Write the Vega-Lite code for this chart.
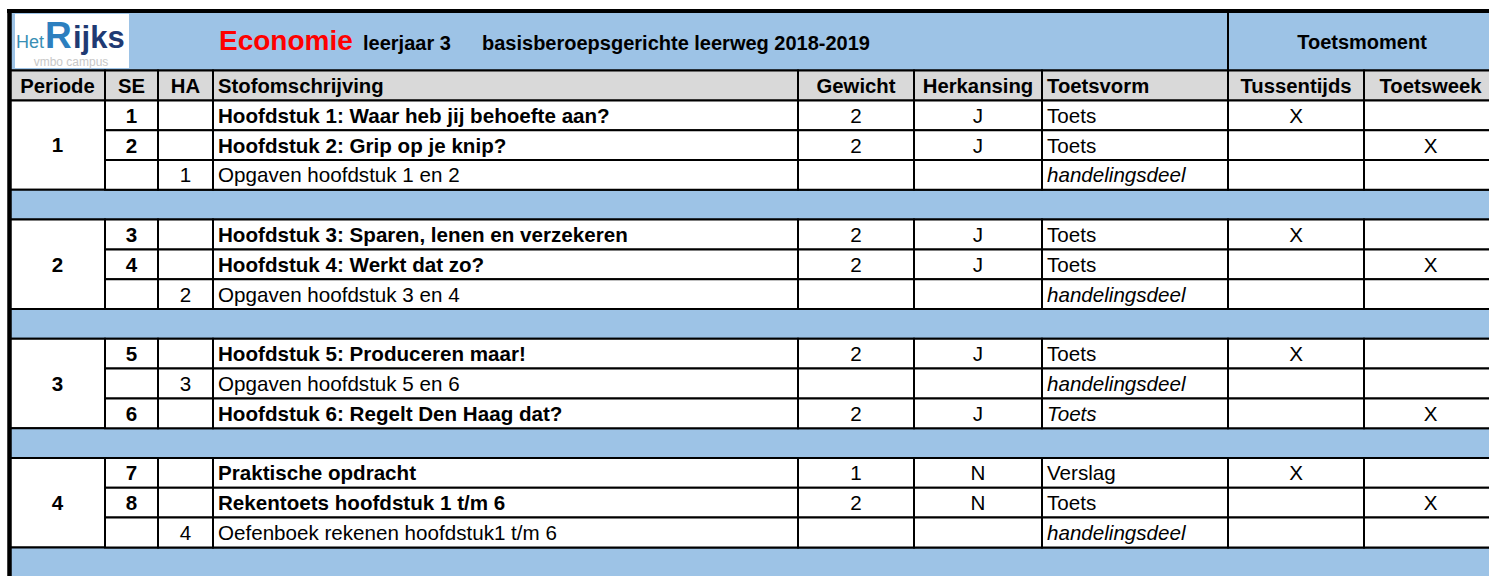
{
  "$schema": "https://vega.github.io/schema/vega-lite/v6.json",
  "width": 1489,
  "height": 576,
  "autosize": "none",
  "padding": 0,
  "background": "white",
  "config": {
    "view": {"stroke": null},
    "text": {"font": "Liberation Sans", "fontSize": 20.6, "color": "#000000"}
  },
  "datasets": {
    "kolommen": [
      {"kolom": "Periode", "links": 10, "rechts": 105, "midden": 57.5},
      {"kolom": "SE", "links": 105, "rechts": 158, "midden": 131.5},
      {"kolom": "HA", "links": 158, "rechts": 213, "midden": 185.5},
      {"kolom": "Stofomschrijving", "links": 213, "rechts": 798, "midden": 505.5},
      {"kolom": "Gewicht", "links": 798, "rechts": 914, "midden": 856},
      {"kolom": "Herkansing", "links": 914, "rechts": 1042, "midden": 978},
      {"kolom": "Toetsvorm", "links": 1042, "rechts": 1228, "midden": 1135},
      {"kolom": "Tussentijds", "links": 1228, "rechts": 1364, "midden": 1296},
      {"kolom": "Toetsweek", "links": 1364, "rechts": 1497, "midden": 1430.5}
    ],
    "vakken": [
      {"inhoud": "", "soort": "titel", "rij": 0, "rijEind": 2, "vanKolom": "Periode", "totKolom": "Toetsvorm"},
      {"inhoud": "Toetsmoment", "soort": "titel", "rij": 0, "rijEind": 2, "vanKolom": "Tussentijds", "totKolom": "Toetsweek"},
      {"inhoud": "Periode", "soort": "kop", "rij": 2, "rijEind": 3, "vanKolom": "Periode", "totKolom": "Periode"},
      {"inhoud": "1", "soort": "periode", "rij": 3, "rijEind": 6, "vanKolom": "Periode", "totKolom": "Periode"},
      {"inhoud": "", "soort": "band", "rij": 6, "rijEind": 7, "vanKolom": "Periode", "totKolom": "Toetsweek"},
      {"inhoud": "2", "soort": "periode", "rij": 7, "rijEind": 10, "vanKolom": "Periode", "totKolom": "Periode"},
      {"inhoud": "", "soort": "band", "rij": 10, "rijEind": 11, "vanKolom": "Periode", "totKolom": "Toetsweek"},
      {"inhoud": "3", "soort": "periode", "rij": 11, "rijEind": 14, "vanKolom": "Periode", "totKolom": "Periode"},
      {"inhoud": "", "soort": "band", "rij": 14, "rijEind": 15, "vanKolom": "Periode", "totKolom": "Toetsweek"},
      {"inhoud": "4", "soort": "periode", "rij": 15, "rijEind": 18, "vanKolom": "Periode", "totKolom": "Periode"},
      {"inhoud": "", "soort": "band", "rij": 18, "rijEind": 19, "vanKolom": "Periode", "totKolom": "Toetsweek"}
    ],
    "regels": [
      {"rij": 2, "rijEind": 3, "type": "kop", "SE": "SE", "HA": "HA", "Stofomschrijving": "Stofomschrijving", "Gewicht": "Gewicht", "Herkansing": "Herkansing", "Toetsvorm": "Toetsvorm", "Tussentijds": "Tussentijds", "Toetsweek": "Toetsweek"},
      {"rij": 3, "rijEind": 4, "type": "SE", "SE": "1", "HA": "", "Stofomschrijving": "Hoofdstuk 1: Waar heb jij behoefte aan?", "Gewicht": "2", "Herkansing": "J", "Toetsvorm": "Toets", "Tussentijds": "X", "Toetsweek": ""},
      {"rij": 4, "rijEind": 5, "type": "SE", "SE": "2", "HA": "", "Stofomschrijving": "Hoofdstuk 2: Grip op je knip?", "Gewicht": "2", "Herkansing": "J", "Toetsvorm": "Toets", "Tussentijds": "", "Toetsweek": "X"},
      {"rij": 5, "rijEind": 6, "type": "HA", "SE": "", "HA": "1", "Stofomschrijving": "Opgaven hoofdstuk 1 en 2", "Gewicht": "", "Herkansing": "", "Toetsvorm": "handelingsdeel", "Tussentijds": "", "Toetsweek": ""},
      {"rij": 7, "rijEind": 8, "type": "SE", "SE": "3", "HA": "", "Stofomschrijving": "Hoofdstuk 3: Sparen, lenen en verzekeren", "Gewicht": "2", "Herkansing": "J", "Toetsvorm": "Toets", "Tussentijds": "X", "Toetsweek": ""},
      {"rij": 8, "rijEind": 9, "type": "SE", "SE": "4", "HA": "", "Stofomschrijving": "Hoofdstuk 4: Werkt dat zo?", "Gewicht": "2", "Herkansing": "J", "Toetsvorm": "Toets", "Tussentijds": "", "Toetsweek": "X"},
      {"rij": 9, "rijEind": 10, "type": "HA", "SE": "", "HA": "2", "Stofomschrijving": "Opgaven hoofdstuk 3 en 4", "Gewicht": "", "Herkansing": "", "Toetsvorm": "handelingsdeel", "Tussentijds": "", "Toetsweek": ""},
      {"rij": 11, "rijEind": 12, "type": "SE", "SE": "5", "HA": "", "Stofomschrijving": "Hoofdstuk 5: Produceren maar!", "Gewicht": "2", "Herkansing": "J", "Toetsvorm": "Toets", "Tussentijds": "X", "Toetsweek": ""},
      {"rij": 12, "rijEind": 13, "type": "HA", "SE": "", "HA": "3", "Stofomschrijving": "Opgaven hoofdstuk 5 en 6", "Gewicht": "", "Herkansing": "", "Toetsvorm": "handelingsdeel", "Tussentijds": "", "Toetsweek": ""},
      {"rij": 13, "rijEind": 14, "type": "SE", "SE": "6", "HA": "", "Stofomschrijving": "Hoofdstuk 6: Regelt Den Haag dat?", "Gewicht": "2", "Herkansing": "J", "Toetsvorm": "Toets", "Tussentijds": "", "Toetsweek": "X"},
      {"rij": 15, "rijEind": 16, "type": "SE", "SE": "7", "HA": "", "Stofomschrijving": "Praktische opdracht", "Gewicht": "1", "Herkansing": "N", "Toetsvorm": "Verslag", "Tussentijds": "X", "Toetsweek": ""},
      {"rij": 16, "rijEind": 17, "type": "SE", "SE": "8", "HA": "", "Stofomschrijving": "Rekentoets hoofdstuk 1 t/m 6", "Gewicht": "2", "Herkansing": "N", "Toetsvorm": "Toets", "Tussentijds": "", "Toetsweek": "X"},
      {"rij": 17, "rijEind": 18, "type": "HA", "SE": "", "HA": "4", "Stofomschrijving": "Oefenboek rekenen hoofdstuk1 t/m 6", "Gewicht": "", "Herkansing": "", "Toetsvorm": "handelingsdeel", "Tussentijds": "", "Toetsweek": ""}
    ]
  },
  "layer": [
    {
      "data": {"name": "vakken"},
      "transform": [
        {"lookup": "vanKolom", "from": {"data": {"name": "kolommen"}, "key": "kolom", "fields": ["links", "midden"]}},
        {"lookup": "totKolom", "from": {"data": {"name": "kolommen"}, "key": "kolom", "fields": ["rechts"]}}
      ],
      "layer": [
        {
          "mark": {"type": "rect", "stroke": "#000000", "strokeWidth": 2},
          "encoding": {
            "x": {"field": "links", "type": "quantitative", "scale": {"domain": [0, 1489], "nice": false, "zero": false}, "axis": null},
            "x2": {"field": "rechts"},
            "y": {"field": "rij", "type": "quantitative", "scale": {"domain": [-0.369, 18.96], "nice": false, "zero": false, "reverse": true}, "axis": null},
            "y2": {"field": "rijEind"},
            "fill": {"condition": [{"test": "datum.soort === 'kop'", "value": "#d9d9d9"}, {"test": "datum.soort === 'periode'", "value": "#ffffff"}], "value": "#9dc3e6"}
          }
        },
        {
          "transform": [{"filter": "datum.soort === 'kop'"}],
          "mark": {"type": "text", "fontWeight": "bold", "fontSize": 20.3, "baseline": "middle", "align": "center", "dy": 16.5},
          "encoding": {
            "x": {"field": "midden", "type": "quantitative", "scale": {"domain": [0, 1489], "nice": false, "zero": false}, "axis": null},
            "y": {"field": "rij", "type": "quantitative", "scale": {"domain": [-0.369, 18.96], "nice": false, "zero": false, "reverse": true}, "axis": null},
            "text": {"field": "inhoud"}
          }
        },
        {
          "transform": [{"filter": "datum.soort === 'periode'"}],
          "mark": {"type": "text", "fontWeight": "bold", "baseline": "middle", "align": "center", "dy": 46},
          "encoding": {
            "x": {"field": "midden", "type": "quantitative", "scale": {"domain": [0, 1489], "nice": false, "zero": false}, "axis": null},
            "y": {"field": "rij", "type": "quantitative", "scale": {"domain": [-0.369, 18.96], "nice": false, "zero": false, "reverse": true}, "axis": null},
            "text": {"field": "inhoud"}
          }
        }
      ]
    },
    {
      "data": {"name": "regels"},
      "transform": [
        {"fold": ["SE", "HA", "Stofomschrijving", "Gewicht", "Herkansing", "Toetsvorm", "Tussentijds", "Toetsweek"], "as": ["kolom", "tekst"]},
        {"lookup": "kolom", "from": {"data": {"name": "kolommen"}, "key": "kolom", "fields": ["links", "rechts", "midden"]}}
      ],
      "layer": [
        {
          "mark": {"type": "rect", "stroke": "#000000", "strokeWidth": 2},
          "encoding": {
            "x": {"field": "links", "type": "quantitative", "scale": {"domain": [0, 1489], "nice": false, "zero": false}, "axis": null},
            "x2": {"field": "rechts"},
            "y": {"field": "rij", "type": "quantitative", "scale": {"domain": [-0.369, 18.96], "nice": false, "zero": false, "reverse": true}, "axis": null},
            "y2": {"field": "rijEind"},
            "fill": {"condition": {"test": "datum.type === 'kop'", "value": "#d9d9d9"}, "value": "#ffffff"}
          }
        },
        {
          "transform": [{"filter": "datum.type === 'kop' && datum.kolom !== 'Stofomschrijving' && datum.kolom !== 'Toetsvorm'"}],
          "mark": {"type": "text", "fontWeight": "bold", "fontSize": 20.3, "baseline": "middle", "align": "center", "dy": 16.5},
          "encoding": {
            "x": {"field": "midden", "type": "quantitative", "scale": {"domain": [0, 1489], "nice": false, "zero": false}, "axis": null},
            "y": {"field": "rij", "type": "quantitative", "scale": {"domain": [-0.369, 18.96], "nice": false, "zero": false, "reverse": true}, "axis": null},
            "text": {"field": "tekst"}
          }
        },
        {
          "transform": [{"filter": "datum.type === 'kop' && (datum.kolom === 'Stofomschrijving' || datum.kolom === 'Toetsvorm')"}],
          "mark": {"type": "text", "fontWeight": "bold", "fontSize": 20.3, "baseline": "middle", "align": "left", "dx": 5, "dy": 16.5},
          "encoding": {
            "x": {"field": "links", "type": "quantitative", "scale": {"domain": [0, 1489], "nice": false, "zero": false}, "axis": null},
            "y": {"field": "rij", "type": "quantitative", "scale": {"domain": [-0.369, 18.96], "nice": false, "zero": false, "reverse": true}, "axis": null},
            "text": {"field": "tekst"}
          }
        },
        {
          "transform": [{"filter": "datum.type !== 'kop' && datum.tekst !== '' && datum.kolom === 'SE'"}],
          "mark": {"type": "text", "fontWeight": "bold", "baseline": "middle", "align": "center", "dy": 16.5},
          "encoding": {
            "x": {"field": "midden", "type": "quantitative", "scale": {"domain": [0, 1489], "nice": false, "zero": false}, "axis": null},
            "y": {"field": "rij", "type": "quantitative", "scale": {"domain": [-0.369, 18.96], "nice": false, "zero": false, "reverse": true}, "axis": null},
            "text": {"field": "tekst"}
          }
        },
        {
          "transform": [{"filter": "datum.type === 'SE' && datum.kolom === 'Stofomschrijving'"}],
          "mark": {"type": "text", "fontWeight": "bold", "baseline": "middle", "align": "left", "dx": 5, "dy": 16.5},
          "encoding": {
            "x": {"field": "links", "type": "quantitative", "scale": {"domain": [0, 1489], "nice": false, "zero": false}, "axis": null},
            "y": {"field": "rij", "type": "quantitative", "scale": {"domain": [-0.369, 18.96], "nice": false, "zero": false, "reverse": true}, "axis": null},
            "text": {"field": "tekst"}
          }
        },
        {
          "transform": [{"filter": "datum.type !== 'kop' && datum.tekst !== '' && (datum.kolom === 'HA' || datum.kolom === 'Gewicht' || datum.kolom === 'Herkansing' || datum.kolom === 'Tussentijds' || datum.kolom === 'Toetsweek')"}],
          "mark": {"type": "text", "baseline": "middle", "align": "center", "dy": 16.5},
          "encoding": {
            "x": {"field": "midden", "type": "quantitative", "scale": {"domain": [0, 1489], "nice": false, "zero": false}, "axis": null},
            "y": {"field": "rij", "type": "quantitative", "scale": {"domain": [-0.369, 18.96], "nice": false, "zero": false, "reverse": true}, "axis": null},
            "text": {"field": "tekst"}
          }
        },
        {
          "transform": [{"filter": "datum.type !== 'kop' && ((datum.kolom === 'Stofomschrijving' && datum.type === 'HA') || (datum.kolom === 'Toetsvorm' && datum.tekst !== 'handelingsdeel' && datum.rij !== 13))"}],
          "mark": {"type": "text", "baseline": "middle", "align": "left", "dx": 5, "dy": 16.5},
          "encoding": {
            "x": {"field": "links", "type": "quantitative", "scale": {"domain": [0, 1489], "nice": false, "zero": false}, "axis": null},
            "y": {"field": "rij", "type": "quantitative", "scale": {"domain": [-0.369, 18.96], "nice": false, "zero": false, "reverse": true}, "axis": null},
            "text": {"field": "tekst"}
          }
        },
        {
          "transform": [{"filter": "datum.type !== 'kop' && datum.kolom === 'Toetsvorm' && (datum.tekst === 'handelingsdeel' || datum.rij === 13)"}],
          "mark": {"type": "text", "fontStyle": "italic", "baseline": "middle", "align": "left", "dx": 5, "dy": 16.5},
          "encoding": {
            "x": {"field": "links", "type": "quantitative", "scale": {"domain": [0, 1489], "nice": false, "zero": false}, "axis": null},
            "y": {"field": "rij", "type": "quantitative", "scale": {"domain": [-0.369, 18.96], "nice": false, "zero": false, "reverse": true}, "axis": null},
            "text": {"field": "tekst"}
          }
        }
      ]
    },
    {
      "data": {"values": [{"deel": "Economie"}]},
      "mark": {"type": "text", "fontWeight": "bold", "fontSize": 28, "color": "#ff0000", "align": "left", "baseline": "alphabetic", "dx": 6, "dy": 9},
      "encoding": {
        "x": {"datum": 213, "type": "quantitative", "scale": {"domain": [0, 1489], "nice": false, "zero": false}, "axis": null},
        "y": {"datum": 1, "type": "quantitative", "scale": {"domain": [-0.369, 18.96], "nice": false, "zero": false, "reverse": true}, "axis": null},
        "text": {"field": "deel"}
      }
    },
    {
      "data": {"values": [{"deel": "leerjaar 3"}]},
      "mark": {"type": "text", "fontWeight": "bold", "fontSize": 20, "align": "left", "baseline": "alphabetic", "dx": 150, "dy": 9},
      "encoding": {
        "x": {"datum": 213, "type": "quantitative", "scale": {"domain": [0, 1489], "nice": false, "zero": false}, "axis": null},
        "y": {"datum": 1, "type": "quantitative", "scale": {"domain": [-0.369, 18.96], "nice": false, "zero": false, "reverse": true}, "axis": null},
        "text": {"field": "deel"}
      }
    },
    {
      "data": {"values": [{"deel": "basisberoepsgerichte leerweg 2018-2019"}]},
      "mark": {"type": "text", "fontWeight": "bold", "fontSize": 20, "align": "left", "baseline": "alphabetic", "dx": 269, "dy": 9},
      "encoding": {
        "x": {"datum": 213, "type": "quantitative", "scale": {"domain": [0, 1489], "nice": false, "zero": false}, "axis": null},
        "y": {"datum": 1, "type": "quantitative", "scale": {"domain": [-0.369, 18.96], "nice": false, "zero": false, "reverse": true}, "axis": null},
        "text": {"field": "deel"}
      }
    },
    {
      "data": {"values": [{"deel": "Toetsmoment"}]},
      "mark": {"type": "text", "fontWeight": "bold", "fontSize": 20, "align": "center", "baseline": "alphabetic", "dy": 8},
      "encoding": {
        "x": {"datum": 1362, "type": "quantitative", "scale": {"domain": [0, 1489], "nice": false, "zero": false}, "axis": null},
        "y": {"datum": 1, "type": "quantitative", "scale": {"domain": [-0.369, 18.96], "nice": false, "zero": false, "reverse": true}, "axis": null},
        "text": {"field": "deel"}
      }
    },
    {
      "data": {"values": [{"deel": "logo"}]},
      "mark": {"type": "rect", "fill": "#ffffff"},
      "encoding": {
        "x": {"datum": 15, "type": "quantitative", "scale": {"domain": [0, 1489], "nice": false, "zero": false}, "axis": null},
        "x2": {"datum": 129},
        "y": {"datum": 0.1, "type": "quantitative", "scale": {"domain": [-0.369, 18.96], "nice": false, "zero": false, "reverse": true}, "axis": null},
        "y2": {"datum": 1.913}
      }
    },
    {
      "data": {"values": [{"deel": "Het"}]},
      "mark": {"type": "text", "fontSize": 18, "color": "#3a8fb5", "align": "left", "baseline": "alphabetic", "dy": 7},
      "encoding": {
        "x": {"datum": 16, "type": "quantitative", "scale": {"domain": [0, 1489], "nice": false, "zero": false}, "axis": null},
        "y": {"datum": 1, "type": "quantitative", "scale": {"domain": [-0.369, 18.96], "nice": false, "zero": false, "reverse": true}, "axis": null},
        "text": {"field": "deel"}
      }
    },
    {
      "data": {"values": [{"deel": "R"}]},
      "mark": {"type": "text", "fontSize": 37, "fontWeight": "bold", "color": "#2c7fbf", "align": "left", "baseline": "alphabetic", "dy": 7},
      "encoding": {
        "x": {"datum": 45, "type": "quantitative", "scale": {"domain": [0, 1489], "nice": false, "zero": false}, "axis": null},
        "y": {"datum": 1, "type": "quantitative", "scale": {"domain": [-0.369, 18.96], "nice": false, "zero": false, "reverse": true}, "axis": null},
        "text": {"field": "deel"}
      }
    },
    {
      "data": {"values": [{"deel": "ijks"}]},
      "mark": {"type": "text", "fontSize": 31, "fontWeight": "bold", "color": "#1f3a73", "align": "left", "baseline": "alphabetic", "dy": 7},
      "encoding": {
        "x": {"datum": 73, "type": "quantitative", "scale": {"domain": [0, 1489], "nice": false, "zero": false}, "axis": null},
        "y": {"datum": 1, "type": "quantitative", "scale": {"domain": [-0.369, 18.96], "nice": false, "zero": false, "reverse": true}, "axis": null},
        "text": {"field": "deel"}
      }
    },
    {
      "data": {"values": [{"deel": "vmbo campus"}]},
      "mark": {"type": "text", "fontSize": 12, "color": "#c8c8c8", "align": "center", "baseline": "alphabetic", "dy": 25},
      "encoding": {
        "x": {"datum": 71, "type": "quantitative", "scale": {"domain": [0, 1489], "nice": false, "zero": false}, "axis": null},
        "y": {"datum": 1, "type": "quantitative", "scale": {"domain": [-0.369, 18.96], "nice": false, "zero": false, "reverse": true}, "axis": null},
        "text": {"field": "deel"}
      }
    },
    {
      "data": {"values": [{"rand": "boven"}]},
      "mark": {"type": "rule", "color": "#000000", "strokeWidth": 4},
      "encoding": {
        "x": {"datum": 7, "type": "quantitative", "scale": {"domain": [0, 1489], "nice": false, "zero": false}, "axis": null},
        "x2": {"datum": 1489},
        "y": {"datum": 0, "type": "quantitative", "scale": {"domain": [-0.369, 18.96], "nice": false, "zero": false, "reverse": true}, "axis": null}
      }
    },
    {
      "data": {"values": [{"rand": "links"}]},
      "mark": {"type": "rule", "color": "#000000", "strokeWidth": 4.5},
      "encoding": {
        "x": {"datum": 9.5, "type": "quantitative", "scale": {"domain": [0, 1489], "nice": false, "zero": false}, "axis": null},
        "y": {"datum": -0.07, "type": "quantitative", "scale": {"domain": [-0.369, 18.96], "nice": false, "zero": false, "reverse": true}, "axis": null},
        "y2": {"datum": 18.96}
      }
    }
  ]
}
